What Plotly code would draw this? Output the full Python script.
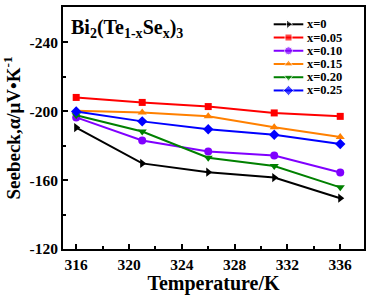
import plotly.graph_objects as go

# ---- data ----
temperature = [316, 321, 326, 331, 336]
series_names = ["x=0", "x=0.05", "x=0.10", "x=0.15", "x=0.20", "x=0.25"]
seebeck_x000 = [-190.5, -169.7, -164.6, -161.5, -149.5]
seebeck_x005 = [-208.0, -205.1, -202.7, -199.0, -197.0]
seebeck_x010 = [-196.4, -183.0, -176.6, -174.3, -164.4]
seebeck_x015 = [-200.2, -199.2, -197.0, -190.7, -185.0]
seebeck_x020 = [-197.7, -188.2, -173.0, -168.2, -155.8]
seebeck_x025 = [-199.8, -194.1, -189.5, -186.3, -181.0]
x_ticks = [316, 320, 324, 328, 332, 336]
y_ticks = [-240, -200, -160, -120]

all_series = [seebeck_x000, seebeck_x005, seebeck_x010, seebeck_x015, seebeck_x020, seebeck_x025]
colors = ["#000000", "#FF0000", "#8000FF", "#FF8000", "#008000", "#0000FF"]
symbols = ["triangle-right", "square", "circle", "triangle-up", "triangle-down", "diamond"]
msizes = [8, 7, 8, 8, 8, 8]

FONT = "Liberation Serif"

fig = go.Figure()
for name, vals, c, s, ms in zip(series_names, all_series, colors, symbols, msizes):
    fig.add_trace(go.Scatter(
        x=temperature, y=vals, name=name, mode="lines+markers",
        line=dict(color=c, width=2), marker=dict(symbol=s, size=ms, color=c),
        showlegend=False, cliponaxis=False))

# manual legend on an overlay pixel-like axis (x2: px from left frame, y2: px from top frame)
for i, (name, c, s, ms) in enumerate(zip(series_names, colors, symbols, msizes)):
    yy = 17.5 + i * 13.4
    fig.add_trace(go.Scatter(
        x=[210.7, 225.5, 240.3], y=[yy, yy, yy], mode="lines+markers",
        line=dict(color=c, width=2), marker=dict(symbol=s, size=[0, ms, 0], color=c),
        xaxis="x2", yaxis="y2", showlegend=False, hoverinfo="skip"))
    fig.add_annotation(x=242.5, y=yy, xref="x2", yref="y2", text="<b>%s</b>" % name,
                       showarrow=False, xanchor="left", yanchor="middle", borderpad=0,
                       font=dict(family=FONT, size=12.5, color="black"))

fig.add_annotation(x=7, y=8.5, xref="x2", yref="y2",
                   text="<b>Bi<sub>2</sub>(Te<sub>1-x</sub>Se<sub>x</sub>)<sub>3</sub></b>",
                   showarrow=False, xanchor="left", yanchor="top", borderpad=0,
                   font=dict(family=FONT, size=20, color="black"))

axis_common = dict(
    showline=True, linecolor="black", linewidth=2, mirror=True,
    ticks="inside", ticklen=5, tickwidth=1.5, tickcolor="black",
    showgrid=False, zeroline=False,
    tickfont=dict(family=FONT, size=15.5, color="black"),
)

fig.update_layout(
    width=371, height=295,
    margin=dict(l=63, r=7, t=5, b=45),
    paper_bgcolor="white", plot_bgcolor="white",
    xaxis=dict(range=[315, 337.8], tickvals=x_ticks,
               ticktext=["<b>%d</b>" % v for v in x_ticks],
               minor=dict(dtick=2, tick0=316, ticks="inside", ticklen=3, tickcolor="black"),
               title=dict(text="<b>Temperature/K</b>", font=dict(family=FONT, size=20, color="black"), standoff=3),
               **axis_common),
    yaxis=dict(range=[-120, -260.5], tickvals=y_ticks,
               ticktext=["<b>%d</b>" % v for v in y_ticks],
               minor=dict(dtick=20, tick0=-240, ticks="inside", ticklen=3, tickcolor="black"),
               title=dict(text="<b>Seebeck,α/μV•K<sup>-1</sup></b>", font=dict(family=FONT, size=19, color="black"), standoff=4),
               **axis_common),
    xaxis2=dict(overlaying="x", range=[0, 301], visible=False, anchor="y2"),
    yaxis2=dict(overlaying="y", range=[245, 0], visible=False, anchor="x2"),
    showlegend=False,
)

fig.write_html("out.html", config={"displayModeBar": False},
               post_script="document.body.style.margin='0';document.body.style.padding='0';")
